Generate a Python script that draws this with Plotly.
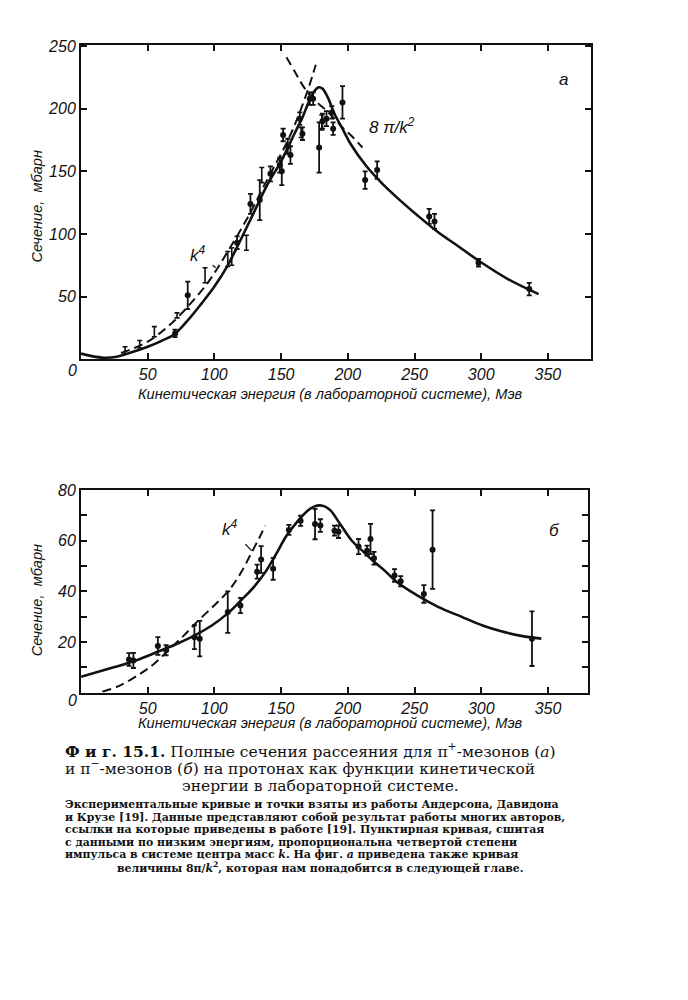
import plotly.graph_objects as go

# ---------------- Panel a (pi+ mesons) ----------------
a_pts_x = [70.5, 80, 117, 127, 134, 142, 149, 150.5, 151.5, 155, 157, 164, 166, 171.5, 174, 178.5, 181, 184, 188, 189, 196, 213, 222, 261, 265, 298, 336]
a_pts_y = [20.6, 51, 93, 124, 127, 148, 155, 150, 179, 170, 163, 192, 180, 208, 208, 169, 190, 192, 197, 184, 205, 143, 151, 114, 110, 77, 56]
a_pts_e = [3, 11, 5, 8, 16, 6, 6, 11, 5, 6, 7, 5, 5, 5, 5, 20, 6, 6, 5, 5, 13, 7, 7, 6, 6, 3, 5]

a_bar_x = [33, 44, 55, 72, 93, 110, 113, 124, 135.5, 165, 180.5]
a_bar_y = [7, 12, 22, 35, 67, 80, 82, 93, 147, 181, 189]
a_bar_e = [3, 3, 4, 2, 6, 6, 7, 6, 6, 4, 6]

a_fit_x = [0, 8, 17, 26, 35, 50, 60, 70, 80, 90, 100, 110, 120, 130, 140, 150, 160, 166, 171, 175, 178, 181, 185, 190, 196, 202, 214, 226, 239, 252, 267, 283, 299, 320, 343]
a_fit_y = [4.5, 2.5, 1.2, 1.8, 4.5, 10, 14.5, 20, 31, 44, 58, 75, 96, 118, 140, 158, 180, 193, 206, 214, 217, 216, 209, 196, 184, 172, 154, 140, 127, 115, 102, 90, 78, 64, 52]

a_k4_x = [30, 40, 50, 57, 65, 74, 85, 95, 102, 110, 119, 128, 136, 144, 152, 159, 165, 171, 176]
a_k4_y = [5, 9, 14, 19, 26, 35, 48, 61, 72, 86, 102, 119, 136, 152, 168, 184, 200, 218, 235]

a_8pi_x = [154, 160, 166, 172, 178, 184, 190, 196, 204, 211]
a_8pi_y = [241, 230, 219, 210, 204, 198.5, 192, 185, 177, 169]

a_xticks = [0, 50, 100, 150, 200, 250, 300, 350]
a_xtext = ["", "50", "100", "150", "200", "250", "300", "350"]
a_yticks = [0, 50, 100, 150, 200, 250]
a_ytext = ["", "50", "100", "150", "200", "250"]

# ---------------- Panel b (pi- mesons) ----------------
b_pts_x = [36, 39.3, 57.6, 63.8, 85, 89, 110, 119.5, 132, 135, 144, 155.8, 164.6, 175.4, 179.4, 190, 193, 208, 214.4, 217, 219.6, 235, 239.6, 257, 263.5, 338]
b_pts_y = [13.1, 12.7, 18.4, 16.7, 21.9, 21.3, 31.8, 34.4, 47.8, 52.6, 48.9, 64.3, 67.9, 66.6, 66, 64, 63.6, 57.7, 56.1, 60.7, 53.1, 46.3, 44, 39, 56.5, 21.3]
b_pts_e = [2.5, 3, 3.5, 2, 4.7, 7, 8.2, 3, 2.8, 5.3, 4.3, 2, 2, 6, 2.5, 2, 2.5, 3, 2, 6, 2.5, 2.5, 2, 3.5, 15.5, 10.8]

b_fit_x = [0, 20, 39, 57, 72, 85, 98, 110, 121, 130, 138, 146, 154, 162, 170, 175, 179, 183, 187, 195, 203, 211, 219, 228, 236, 252, 268, 285, 301, 315, 330, 345]
b_fit_y = [6.2, 9.3, 12.3, 16, 19.3, 22.5, 26.5, 31.3, 37, 42, 47.5, 54.5, 62, 67.5, 72, 73.6, 74, 73.5, 72, 66, 60, 56, 52, 48, 44, 38.4, 33.8, 30, 26.5, 24.2, 22.4, 21.3]

b_k4_x = [16, 29, 44, 54, 66, 77, 88, 100, 111, 120, 128, 134, 138]
b_k4_y = [0.3, 2.7, 7.3, 11, 17, 22.5, 28.5, 34.5, 40.5, 47.5, 55.5, 61.5, 66]

b_xticks = [0, 50, 100, 150, 200, 250, 300, 350]
b_xtext = ["", "50", "100", "150", "200", "250", "300", "350"]
b_yticks = [0, 10, 20, 30, 40, 50, 60, 70, 80]
b_ytext = ["", "", "20", "", "40", "", "60", "", "80"]

x_title = "Кинетическая энергия (в лабораторной системе), Мэв"
y_title = "Сечение,  мбарн"

caption_lines = [
    "<b>Ф и г. 15.1.</b> Полные сечения рассеяния для π<sup>+</sup>-мезонов (<i>а</i>)",
    "и π<sup>−</sup>-мезонов (<i>б</i>) на протонах как функции кинетической",
    "энергии в лабораторной системе.",
]
note_lines = [
    "Экспериментальные кривые и точки взяты из работы Андерсона, Давидона",
    "и Крузе [19]. Данные представляют собой результат работы многих авторов,",
    "ссылки на которые приведены в работе [19]. Пунктирная кривая, сшитая",
    "с данными по низким энергиям, пропорциональна четвертой степени",
    "импульса в системе центра масс <i>k</i>. На фиг. <i>а</i> приведена также кривая",
    "величины 8π/<i>k</i><sup>2</sup>, которая нам понадобится в следующей главе.",
]

W, H, OFF = 688, 1000, 8  # page body margin of the browser shifts the figure by OFF px

def px(x):
    return (x - OFF) / W

def py(y):
    return 1 - (y - OFF) / H

INK = "#111111"
fig = go.Figure()

def add_panel(xa, ya, pts_x, pts_y, pts_e, fit_x, fit_y, k4_x, k4_y):
    fig.add_trace(go.Scatter(x=fit_x, y=fit_y, mode="lines", line=dict(color=INK, width=2.6, shape="spline"),
                             xaxis=xa, yaxis=ya, hoverinfo="skip"))
    fig.add_trace(go.Scatter(x=k4_x, y=k4_y, mode="lines", line=dict(color=INK, width=2, dash="9px,5px", shape="spline"),
                             xaxis=xa, yaxis=ya, hoverinfo="skip"))
    fig.add_trace(go.Scatter(x=pts_x, y=pts_y, mode="markers",
                             marker=dict(color=INK, size=6),
                             error_y=dict(type="data", array=pts_e, color=INK, thickness=1.8, width=2.5),
                             xaxis=xa, yaxis=ya))

add_panel("x", "y", a_pts_x, a_pts_y, a_pts_e, a_fit_x, a_fit_y, a_k4_x, a_k4_y)
fig.add_trace(go.Scatter(x=a_bar_x, y=a_bar_y, mode="markers", marker=dict(color=INK, size=1),
                         error_y=dict(type="data", array=a_bar_e, color=INK, thickness=1.6, width=2.5),
                         xaxis="x", yaxis="y"))
fig.add_trace(go.Scatter(x=a_8pi_x, y=a_8pi_y, mode="lines", line=dict(color=INK, width=2, dash="9px,5px", shape="spline"),
                         xaxis="x", yaxis="y", hoverinfo="skip"))
add_panel("x2", "y2", b_pts_x, b_pts_y, b_pts_e, b_fit_x, b_fit_y, b_k4_x, b_k4_y)

tickfont = dict(family="Liberation Sans", size=16, color=INK, style="italic")
axis_common = dict(showline=True, linecolor=INK, linewidth=2, mirror="allticks", ticks="inside",
                   ticklen=6, tickwidth=1.5, tickcolor=INK, showgrid=False, zeroline=False,
                   tickfont=tickfont, tickmode="array")

fig.update_layout(
    width=W, height=H, margin=dict(l=0, r=0, t=0, b=0),
    paper_bgcolor="white", plot_bgcolor="white", showlegend=False,
    xaxis=dict(domain=[px(81), px(591)], range=[0, 382.3], tickvals=a_xticks, ticktext=a_xtext, anchor="y", **axis_common),
    yaxis=dict(domain=[py(354), py(37)], range=[0, 251], tickvals=a_yticks, ticktext=a_ytext, anchor="x", **axis_common),
    xaxis2=dict(domain=[px(81), px(588)], range=[0, 380], tickvals=b_xticks, ticktext=b_xtext, anchor="y2", **axis_common),
    yaxis2=dict(domain=[py(690), py(486)], range=[0, 80], tickvals=b_yticks, ticktext=b_ytext, anchor="x2", **axis_common),
)

ann = []
labfont = dict(family="Liberation Sans", size=14.6, color=INK, style="italic")
# axis titles
for ycen, ytitle in [(200, 389), (597, 721)]:
    ann.append(dict(text=y_title, x=px(37), y=py(ycen), xref="paper", yref="paper", showarrow=False,
                    textangle=-90, font=labfont, xanchor="center", yanchor="middle"))
    ann.append(dict(text=x_title, x=px(330), y=py(ytitle), xref="paper", yref="paper", showarrow=False,
                    font=labfont, xanchor="center", yanchor="middle"))
# corner zeros
for yz in [365, 698]:
    ann.append(dict(text="0", x=px(72), y=py(yz), xref="paper", yref="paper", showarrow=False,
                    font=tickfont, xanchor="center", yanchor="middle"))
# curve labels
kfont = dict(family="Liberation Sans", size=17, color=INK, style="italic")
ann.append(dict(text="<i>k</i><sup>4</sup>", x=101, y=73, ax=88, ay=84, xref="x", yref="y", axref="x", ayref="y",
                showarrow=True, arrowhead=0, arrowwidth=1.3, arrowcolor=INK, font=kfont, xanchor="center", yanchor="middle",
                standoff=0, startstandoff=6))
ann.append(dict(text="8 π/<i>k</i><sup>2</sup>", x=203, y=177, ax=233, ay=186, xref="x", yref="y", axref="x", ayref="y",
                showarrow=True, arrowhead=0, arrowwidth=1.3, arrowcolor=INK, font=kfont, xanchor="center", yanchor="middle",
                standoff=0, startstandoff=20))
ann.append(dict(text="<i>k</i><sup>4</sup>", x=128, y=56, ax=112, ay=65, xref="x2", yref="y2", axref="x2", ayref="y2",
                showarrow=True, arrowhead=0, arrowwidth=1.3, arrowcolor=INK, font=kfont, xanchor="center", yanchor="middle",
                standoff=0, startstandoff=8))
ann.append(dict(text="а", x=362, y=223, xref="x", yref="y", showarrow=False, font=kfont))
ann.append(dict(text="б", x=355, y=64, xref="x2", yref="y2", showarrow=False, font=kfont))

# caption
capfont = dict(family="DejaVu Serif", size=15.5, color=INK)
ann.append(dict(text=caption_lines[0], x=px(63), y=py(748), xref="paper", yref="paper", showarrow=False,
                font=capfont, xanchor="left", yanchor="middle"))
ann.append(dict(text=caption_lines[1], x=px(63), y=py(766), xref="paper", yref="paper", showarrow=False,
                font=capfont, xanchor="left", yanchor="middle"))
ann.append(dict(text=caption_lines[2], x=px(320), y=py(784), xref="paper", yref="paper", showarrow=False,
                font=capfont, xanchor="center", yanchor="middle"))
notefont = dict(family="DejaVu Serif", size=10.9, color=INK, weight="bold")
for i, line in enumerate(note_lines):
    yy = 803 + i * 12.6
    if i == len(note_lines) - 1:
        ann.append(dict(text=line, x=px(320), y=py(yy), xref="paper", yref="paper", showarrow=False,
                        font=notefont, xanchor="center", yanchor="middle"))
    else:
        ann.append(dict(text=line, x=px(63), y=py(yy), xref="paper", yref="paper", showarrow=False,
                        font=notefont, xanchor="left", yanchor="middle"))

fig.update_layout(annotations=ann)
fig.write_html("out.html")
